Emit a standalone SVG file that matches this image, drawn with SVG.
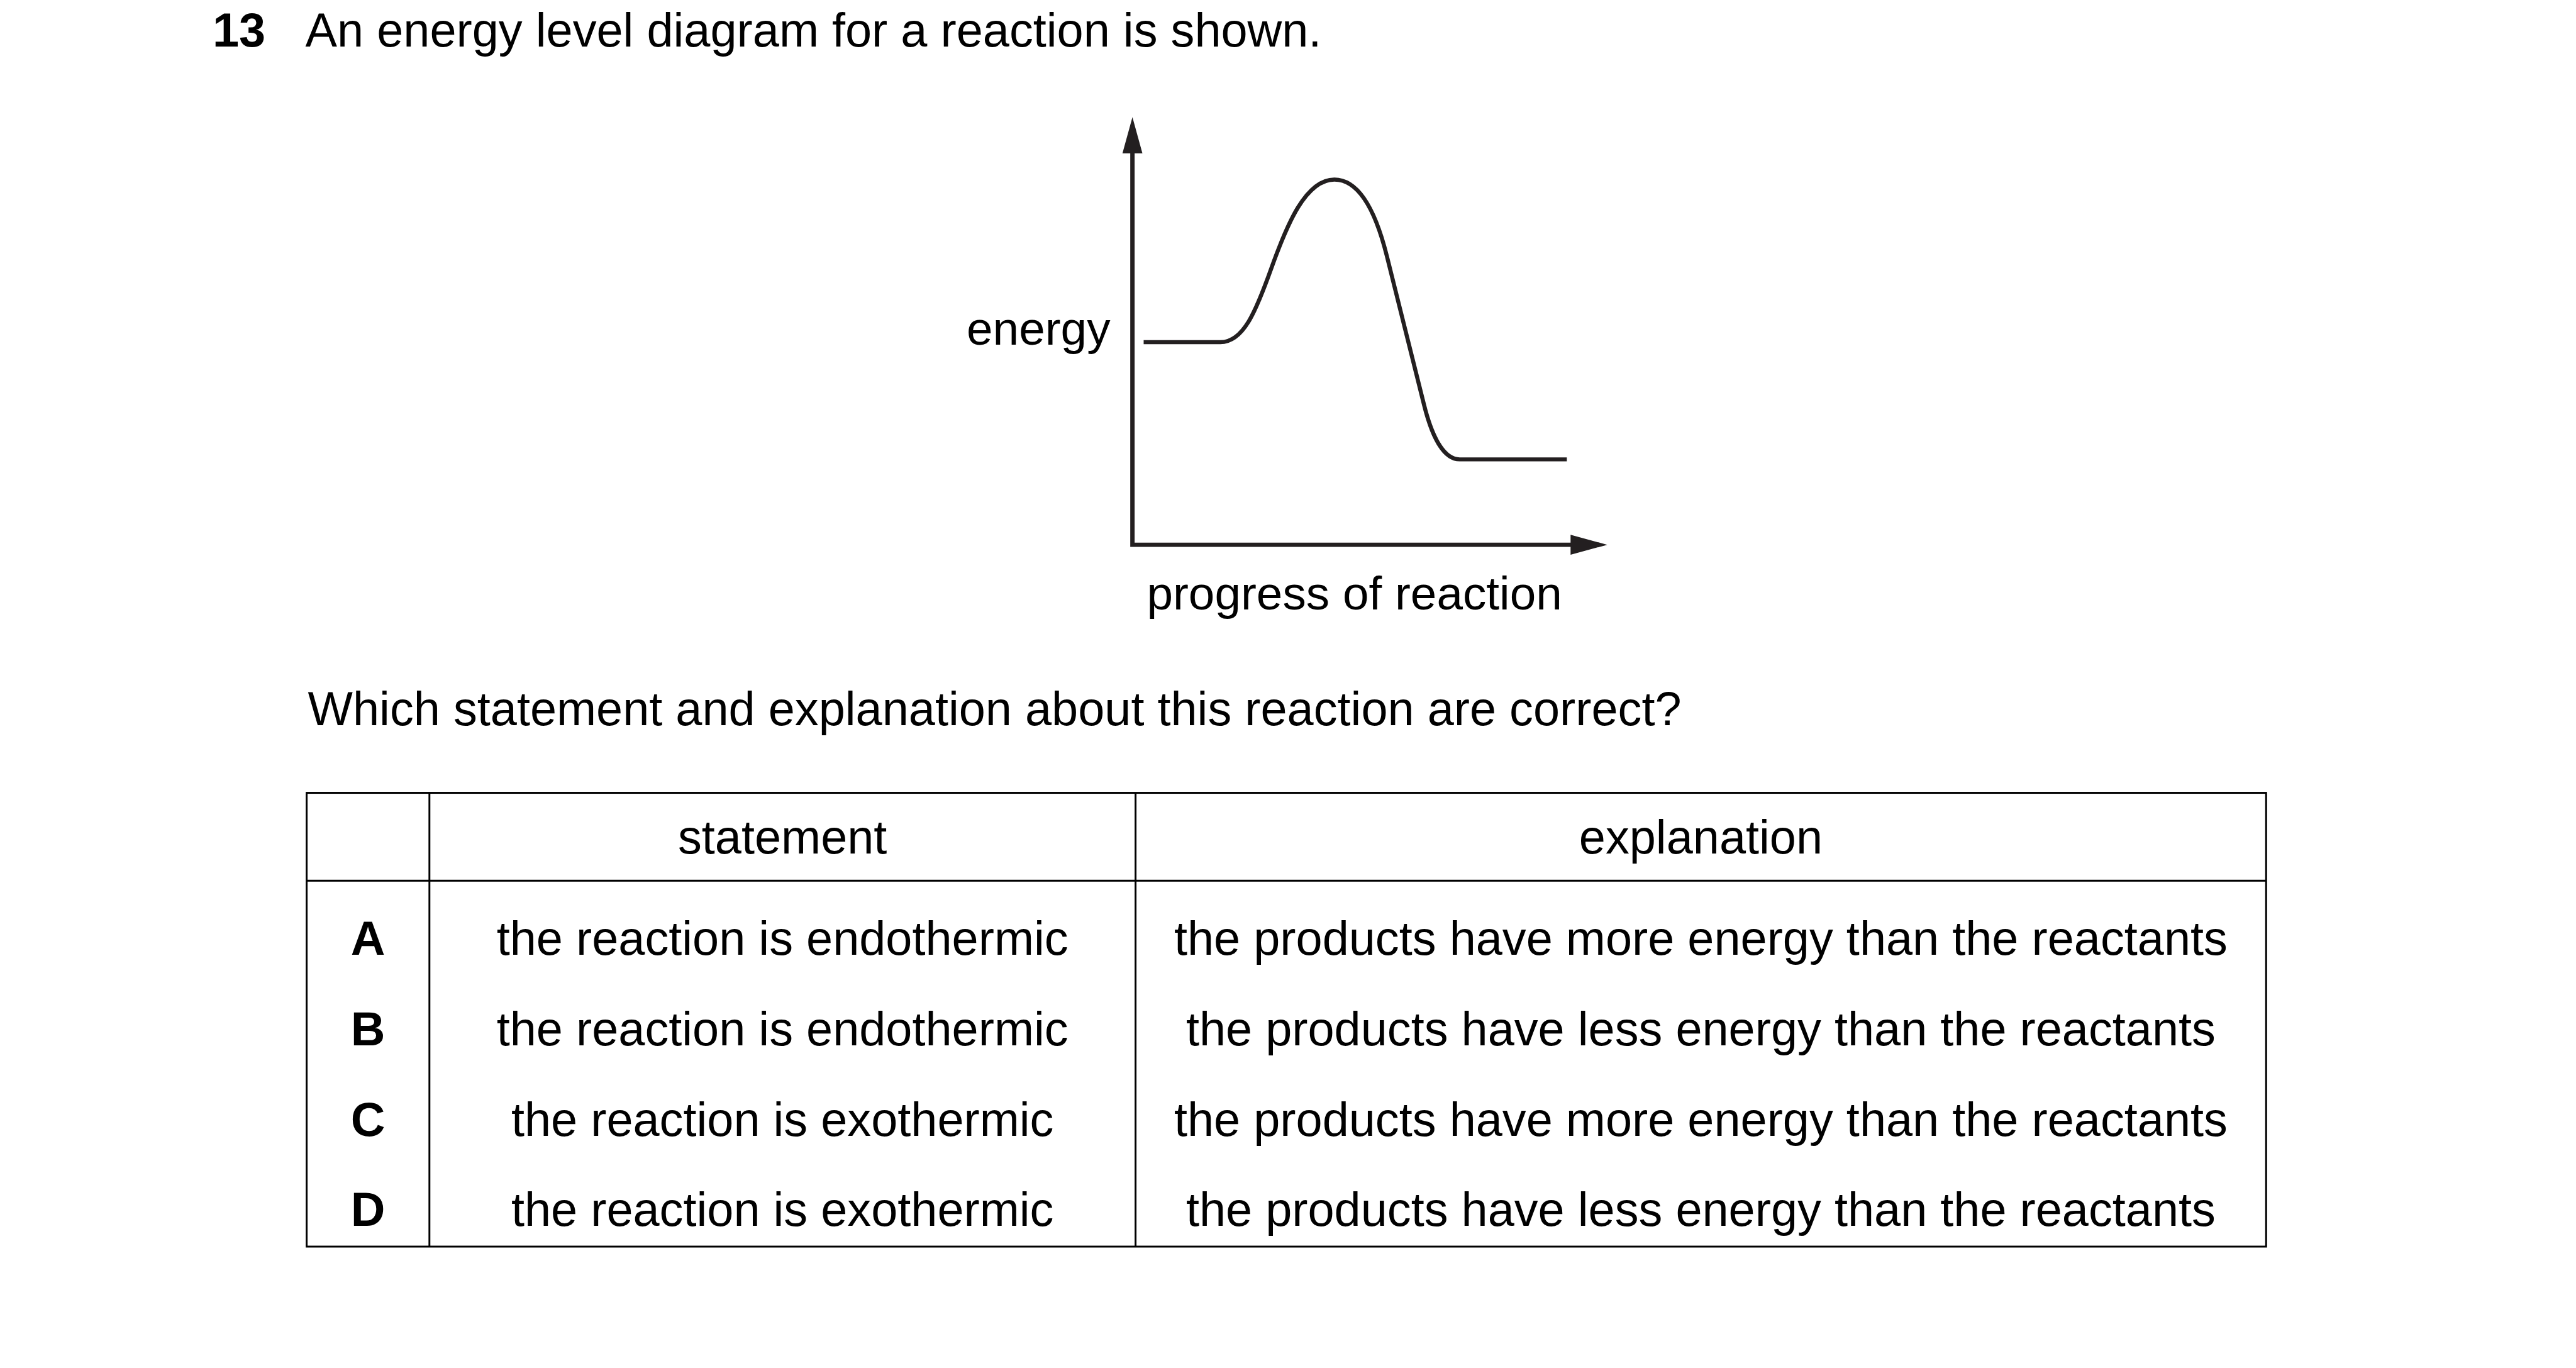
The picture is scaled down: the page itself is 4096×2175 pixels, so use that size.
<svg xmlns="http://www.w3.org/2000/svg" width="4096" height="2175" viewBox="0 0 4096 2175">
<style>
text{font-family:"Liberation Sans",Arial,sans-serif;font-size:76.4px;fill:#000}
.b{font-weight:bold}
.c{text-anchor:middle}
.g{font-size:75.4px}
.ax{fill:none;stroke:#231f20;stroke-width:7;stroke-linejoin:miter}
.cv{fill:none;stroke:#231f20;stroke-width:6.5;stroke-linejoin:round}
.hd{fill:#231f20}
.tb{fill:none;stroke:#000;stroke-width:3}
</style>
<rect width="4096" height="2175" fill="#fff"/>
<g transform="scale(0.991)">
<g id="title">
<text x="341" y="75" class="b">13</text>
<text x="490" y="75">An energy level diagram for a reaction is shown.</text>
</g>
<g id="graph">
<g id="connectors">
<path class="ax" d="M1817,240 V874 H2525"/>
<polygon class="hd" points="1817,188 1801,246 1833,246"/>
<polygon class="hd" points="2579,874 2520,858 2520,890"/>
</g>
<path id="curve" class="cv" d="M1835,549 H1958 C1995,549 2015,500 2040,430 C2065,360 2095,288 2141,288 C2180,288 2207,338 2225,410 L2285,650 C2300,710 2320,737 2342,737 H2514"/>
<text id="ylabel" class="g" x="1551" y="553">energy</text>
<text id="xlabel" class="g" x="1840" y="978">progress of reaction</text>
</g>
<text id="question" x="494" y="1163">Which statement and explanation about this reaction are correct?</text>
<g id="table">
<rect class="tb" x="492" y="1272" width="3144" height="728"/>
<line class="tb" x1="492" y1="1413" x2="3636" y2="1413"/>
<line class="tb" x1="689" y1="1272" x2="689" y2="2000"/>
<line class="tb" x1="1822" y1="1272" x2="1822" y2="2000"/>
<text class="c" x="1255.5" y="1369">statement</text>
<text class="c" x="2729" y="1369">explanation</text>
<g id="rowA">
<text class="b c" x="590.5" y="1532">A</text>
<text class="c" x="1255.5" y="1532">the reaction is endothermic</text>
<text class="c" x="2729" y="1532">the products have more energy than the reactants</text>
</g>
<g id="rowB">
<text class="b c" x="590.5" y="1677">B</text>
<text class="c" x="1255.5" y="1677">the reaction is endothermic</text>
<text class="c" x="2729" y="1677">the products have less energy than the reactants</text>
</g>
<g id="rowC">
<text class="b c" x="590.5" y="1822">C</text>
<text class="c" x="1255.5" y="1822">the reaction is exothermic</text>
<text class="c" x="2729" y="1822">the products have more energy than the reactants</text>
</g>
<g id="rowD">
<text class="b c" x="590.5" y="1967">D</text>
<text class="c" x="1255.5" y="1967">the reaction is exothermic</text>
<text class="c" x="2729" y="1967">the products have less energy than the reactants</text>
</g>
</g>
</g>
</svg>
